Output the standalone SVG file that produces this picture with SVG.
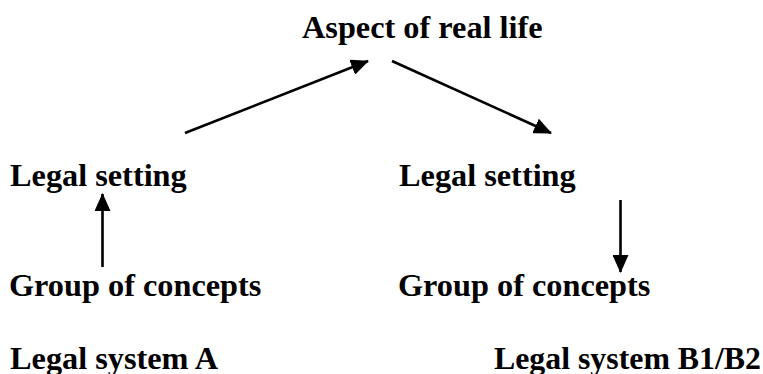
<svg xmlns="http://www.w3.org/2000/svg" width="763" height="374" viewBox="0 0 763 374">
<defs>
<style>
.t{font-family:"Liberation Serif","Times New Roman",serif;font-weight:bold;font-size:32.3px;fill:#000}
.c{stroke:#000;stroke-width:2.6;fill:none}
</style>
<marker id="ah" markerUnits="userSpaceOnUse" markerWidth="18" markerHeight="16" viewBox="0 0 18 16" refX="17" refY="8" orient="auto">
<path d="M0,0 L18,8 L0,16 z" fill="#000"/>
</marker>
</defs>
<rect width="763" height="374" fill="#fff"/>
<g id="aspect"><text class="t" x="302" y="38">Aspect of real life</text></g>
<g id="settingA"><text class="t" x="10" y="186">Legal setting</text></g>
<g id="settingB"><text class="t" x="399" y="186">Legal setting</text></g>
<g id="conceptsA"><text class="t" x="9" y="296">Group of concepts</text></g>
<g id="conceptsB"><text class="t" x="398" y="296">Group of concepts</text></g>
<g id="systemA"><text class="t" x="10" y="369">Legal system A</text></g>
<g id="systemB"><text class="t" x="494" y="369" textLength="267" lengthAdjust="spacingAndGlyphs">Legal system B1/B2</text></g>
<g id="connectors">
<line class="c" x1="185" y1="133" x2="368" y2="61" marker-end="url(#ah)"/>
<line class="c" x1="392" y1="61" x2="551" y2="133" marker-end="url(#ah)"/>
<line class="c" x1="102.5" y1="267" x2="102.5" y2="194" marker-end="url(#ah)"/>
<line class="c" x1="620.5" y1="200" x2="620.5" y2="272" marker-end="url(#ah)"/>
</g>
</svg>
